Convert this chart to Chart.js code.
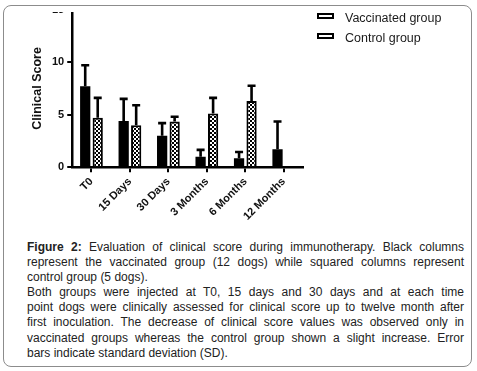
<!DOCTYPE html>
<html>
<head>
<meta charset="utf-8">
<script src="https://cdn.jsdelivr.net/npm/chart.js@4/dist/chart.umd.min.js"></script>
<style>
  body { margin: 0; background: #fff; width: 477px; height: 371px; position: relative; overflow: hidden;
         font-family: "Liberation Sans", Arial, sans-serif; color: #1a1a1a; }
  .frame { position: absolute; left: 3px; top: 5px; width: 467px; height: 360px;
           border: 1.5px solid #8c8c8c; border-radius: 8px; }
  .plot { position: absolute; left: 0; top: 12px; width: 320px; height: 220px; overflow: hidden; }
  .plot .inner { position: absolute; left: 0; top: -12px; width: 320px; height: 232px; }
  .legend { position: absolute; left: 317px; top: 10px; font-size: 12.5px; }
  .legend div { height: 20px; line-height: 17px; white-space: nowrap; }
  .legend span.box { display: inline-block; width: 13px; height: 2px; border: 2px solid #000;
                     background: #fff; margin-right: 11px; vertical-align: 3px; }
  .caption { position: absolute; left: 27px; top: 240px; width: 437px; font-size: 12px;
             line-height: 15.1px; color: #222; }
  .caption div { text-align: justify; text-align-last: justify; white-space: nowrap; }
  .caption div.end { text-align-last: left; }
</style>
</head>
<body>
<div class="frame"></div>
<div class="plot"><div class="inner"><canvas id="chart"></canvas></div></div>
<div class="legend">
  <div><span class="box"></span>Vaccinated group</div>
  <div><span class="box"></span>Control group</div>
</div>
<div class="caption">
  <div><b>Figure 2:</b> Evaluation of clinical score during immunotherapy. Black columns</div>
  <div>represent the vaccinated group (12 dogs) while squared columns represent</div>
  <div class="end">control group (5 dogs).</div>
  <div>Both groups were injected at T0, 15 days and 30 days and at each time</div>
  <div>point dogs were clinically assessed for clinical score up to twelve month after</div>
  <div>first inoculation. The decrease of clinical score values was observed only in</div>
  <div>vaccinated groups whereas the control group shown a slight increase. Error</div>
  <div class="end">bars indicate standard deviation (SD).</div>
</div>
<script>
const categories = ["T0", "15 Days", "30 Days", "3 Months", "6 Months", "12 Months"];
const vaccinated = [7.7, 4.4, 3.0, 1.0, 0.85, 1.7];
const vaccinatedSD = [2.0, 2.1, 1.2, 0.65, 0.6, 2.65];
const control = [4.7, 4.0, 4.35, 5.1, 6.3, null];
const controlSD = [1.9, 1.9, 0.45, 1.5, 1.45, null];
const yTicks = [0, 5, 10, 15];

const fontFamily = '"Liberation Sans", Arial, sans-serif';

/* dotted fill for the control columns */
function dotPattern() {
  const c = document.createElement("canvas");
  c.width = 4; c.height = 4;
  const g = c.getContext("2d");
  g.fillStyle = "#000";
  g.fillRect(0, 0, 4, 4);
  g.fillStyle = "#fff";
  g.fillRect(0, 0, 2, 2);
  g.fillRect(2, 2, 2, 2);
  return g.createPattern(c, "repeat");
}

/* upward SD whiskers */
const errorBars = {
  id: "errorBars",
  afterDatasetsDraw(chart) {
    const ctx = chart.ctx;
    const y = chart.scales.y;
    ctx.save();
    ctx.strokeStyle = "#000";
    ctx.lineWidth = 2.6;
    chart.data.datasets.forEach((ds, i) => {
      const meta = chart.getDatasetMeta(i);
      meta.data.forEach((bar, j) => {
        const v = ds.data[j], sd = ds.sd[j];
        if (v == null || sd == null) return;
        const top = y.getPixelForValue(v + sd);
        ctx.beginPath();
        ctx.moveTo(bar.x, bar.y);
        ctx.lineTo(bar.x, top);
        ctx.moveTo(bar.x - 4, top);
        ctx.lineTo(bar.x + 4, top);
        ctx.stroke();
      });
    });
    ctx.restore();
  }
};

new Chart(document.getElementById("chart"), {
  type: "bar",
  data: {
    labels: categories,
    datasets: [
      { label: "Vaccinated group", data: vaccinated, sd: vaccinatedSD,
        backgroundColor: "#000", borderColor: "#000", borderWidth: 0 },
      { label: "Control group", data: control, sd: controlSD,
        backgroundColor: dotPattern(), borderColor: "#000", borderWidth: 2 }
    ]
  },
  options: {
    responsive: true,
    maintainAspectRatio: false,
    animation: false,
    layout: { padding: { left: 26, right: 17, top: 2, bottom: 6 } },
    datasets: { bar: { categoryPercentage: 0.65, barPercentage: 0.82 } },
    plugins: { legend: { display: false }, tooltip: { enabled: false } },
    scales: {
      x: {
        grid: { display: true, drawOnChartArea: false, offset: false, color: "#000", lineWidth: 2, tickLength: 5 },
        border: { color: "#000", width: 2.5 },
        ticks: { color: "#111", autoSkip: false, minRotation: 45, maxRotation: 45, padding: 3,
                 font: { family: fontFamily, size: 11, weight: "bold" } }
      },
      y: {
        min: 0, max: 15,
        afterBuildTicks: s => { s.ticks = yTicks.map(v => ({ value: v })); },
        grid: { display: true, drawOnChartArea: false, color: "#000", lineWidth: 2, tickLength: 5 },
        border: { color: "#000", width: 2.5 },
        ticks: { color: "#111", padding: 3, font: { family: fontFamily, size: 11, weight: "bold" } },
        title: { display: true, text: "Clinical Score", color: "#111", padding: { top: 4, bottom: 4 },
                 font: { family: fontFamily, size: 12.5, weight: "bold" } }
      }
    }
  },
  plugins: [errorBars]
});
</script>
</body>
</html>
